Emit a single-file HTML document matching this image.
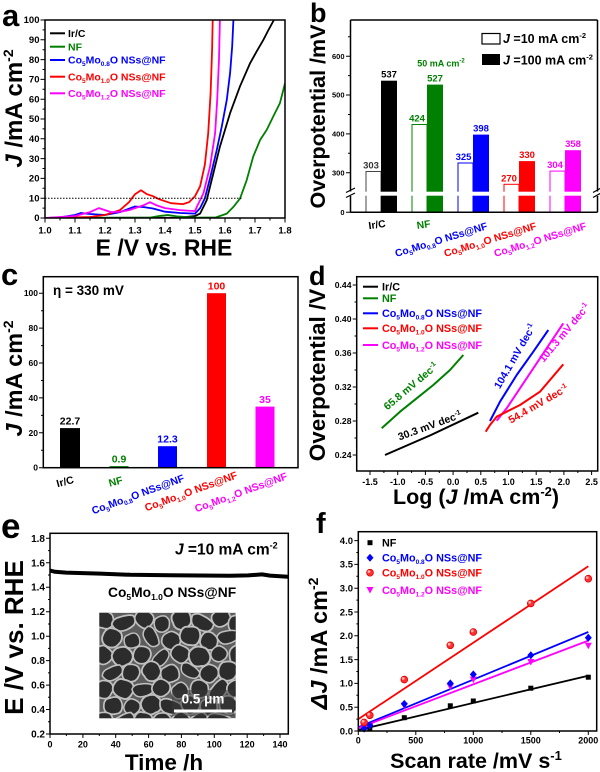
<!DOCTYPE html>
<html><head><meta charset="utf-8"><style>
html,body{margin:0;padding:0;background:#fff;}
svg{display:block;}
text{font-family:"Liberation Sans",Arial,sans-serif;font-weight:bold;}
</style></head><body>
<svg width="600" height="772" viewBox="0 0 600 772" xmlns="http://www.w3.org/2000/svg">
<defs>
<clipPath id="ca"><rect x="45" y="20" width="240" height="198"/></clipPath>
<clipPath id="csem"><rect x="99.3" y="612.7" width="136.4" height="105.6"/></clipPath>
<path id="c1" d="M-8,-5 Q-4,-10 1,-9 Q7,-8 8,-5 Q11,0 9,4 Q6,9 1,8 Q-5,9 -7,5 Q-10,0 -8,-5Z"/>
<path id="c2" d="M-9,-2 Q-8,-8 -3,-8 Q4,-10 7,-7 Q10,-3 9,2 Q8,8 3,8 Q-3,9 -7,6 Q-10,3 -9,-2Z"/>
<path id="c3" d="M-6,-7 Q0,-10 5,-8 Q10,-4 8,2 Q7,8 0,9 Q-6,9 -8,4 Q-10,-3 -6,-7Z"/>
<path id="c4" d="M-12,-3 Q-9,-8 -2,-7 Q6,-7 11,-4 Q13,1 9,5 Q3,8 -4,7 Q-11,6 -12,-3Z"/>
</defs>

<!-- ================= PANEL A ================= -->
<text x="2" y="26" font-size="31">a</text>
<g clip-path="url(#ca)" fill="none" stroke-width="1.8" stroke-linejoin="round">
<path stroke="#000" d="M45,218 L180,217.6 L195,216 L200.1,213.6 L206.7,200.2 L213.3,173.5 L219.9,146.7 L230.1,113.1 L240,86.3 L249.9,63.6 L256.5,51.7 L263.4,39.8 L268.5,29.9 L273.9,20 L276,14"/>
<path stroke="#008000" d="M45,218 L150,217.6 L159,216 L168,215 L177,216.4 L195,217.6 L216,217.4 L226.8,213.6 L233.4,206.9 L240,198.6 L246.6,180.4 L253.2,156.6 L260.1,140 L266.7,129.9 L273.3,116.4 L279.9,103.2 L285,83.4"/>
<path stroke="#0000ff" d="M45,218 L60,217.4 L75,215 L81,213 L90,214 L105,215 L120,212.1 L135,206.5 L144,207.1 L153,208.5 L165,211.7 L180,213 L195,213.6 L200.1,208.1 L204.9,198.2 L210,178.4 L216.6,150.7 L221.7,126.9 L226.8,99.8 L230.1,72.9 L232.2,46.1 L233.4,20 L234,12"/>
<path stroke="#ff0000" d="M45,218 L90,217 L105,215 L120,210.1 L129,202.2 L135,194.2 L141,190.3 L147,194.2 L153,196.2 L159,199.2 L171,203.2 L183,204.1 L189,202.2 L195,196.2 L200.1,186.3 L204.9,164.5 L208.2,133.3 L210.6,93.3 L212.1,49.7 L212.7,20 L213,12"/>
<path stroke="#ff00ff" d="M45,218 L75,216 L90,212.1 L99,208.1 L105,210.1 L111,212.1 L120,211.7 L129,210.1 L135,208.1 L144,205.1 L150,202.2 L156,205.1 L165,208.1 L180,210.1 L195,211.1 L196.8,206.9 L203.4,193.4 L210,166.7 L215.1,133.3 L217.2,99.8 L219,59.6 L219.9,20 L220,12"/>
</g>
<line x1="45" y1="198.2" x2="243" y2="198.2" stroke="#000" stroke-width="1" stroke-dasharray="1.5,1.5"/>
<rect x="45" y="20" width="240" height="198" fill="none" stroke="#000" stroke-width="1.5"/>
<path stroke="#000" stroke-width="1" d="M40.5,218H45M40.5,198.2H45M40.5,178.4H45M40.5,158.6H45M40.5,138.8H45M40.5,119H45M40.5,99.2H45M40.5,79.4H45M40.5,59.6H45M40.5,39.8H45M40.5,20H45"/>
<path stroke="#000" stroke-width="1" d="M42.5,208.1H45M42.5,188.3H45M42.5,168.5H45M42.5,148.7H45M42.5,128.9H45M42.5,109.1H45M42.5,89.3H45M42.5,69.5H45M42.5,49.7H45M42.5,29.9H45"/>
<path stroke="#000" stroke-width="1" d="M45,218V222.5M75,218V222.5M105,218V222.5M135,218V222.5M165,218V222.5M195,218V222.5M225,218V222.5M255,218V222.5M285,218V222.5M60,218V220.5M90,218V220.5M120,218V220.5M150,218V220.5M180,218V220.5M210,218V220.5M240,218V220.5M270,218V220.5"/>
<g font-size="9.5" text-anchor="end">
<text x="39.5" y="221.2">0</text><text x="39.5" y="201.4">10</text><text x="39.5" y="181.6">20</text><text x="39.5" y="161.8">30</text><text x="39.5" y="142">40</text><text x="39.5" y="122.2">50</text><text x="39.5" y="102.4">60</text><text x="39.5" y="82.6">70</text><text x="39.5" y="62.8">80</text><text x="39.5" y="43">90</text><text x="39.5" y="23.2">100</text>
</g>
<g font-size="9.5" text-anchor="middle">
<text x="45" y="233.5">1.0</text><text x="75" y="233.5">1.1</text><text x="105" y="233.5">1.2</text><text x="135" y="233.5">1.3</text><text x="165" y="233.5">1.4</text><text x="195" y="233.5">1.5</text><text x="225" y="233.5">1.6</text><text x="255" y="233.5">1.7</text><text x="285" y="233.5">1.8</text>
</g>
<text x="164" y="255.5" text-anchor="middle" font-size="23">E /V vs. RHE</text>
<text transform="translate(22,108.5) rotate(-90)" text-anchor="middle" font-size="24"><tspan font-style="italic">J</tspan> /mA cm<tspan dy="-9" font-size="14">-2</tspan></text>
<!-- legend a -->
<g stroke-width="2">
<line x1="50" y1="33.3" x2="65" y2="33.3" stroke="#000"/>
<line x1="50" y1="46.7" x2="65" y2="46.7" stroke="#008000"/>
<line x1="50" y1="60" x2="65" y2="60" stroke="#0000ff"/>
<line x1="50" y1="76.7" x2="65" y2="76.7" stroke="#ff0000"/>
<line x1="50" y1="93.3" x2="65" y2="93.3" stroke="#ff00ff"/>
</g>
<g font-size="10.5">
<text x="68" y="37">Ir/C</text>
<text x="68" y="50.4" fill="#008000">NF</text>
<text x="68" y="63.7" fill="#0000ff">Co<tspan dy="2.5" font-size="6.5">5</tspan><tspan dy="-2.5">Mo</tspan><tspan dy="2.5" font-size="6.5">0.8</tspan><tspan dy="-2.5">O NSs@NF</tspan></text>
<text x="68" y="80.4" fill="#ff0000">Co<tspan dy="2.5" font-size="6.5">5</tspan><tspan dy="-2.5">Mo</tspan><tspan dy="2.5" font-size="6.5">1.0</tspan><tspan dy="-2.5">O NSs@NF</tspan></text>
<text x="68" y="97" fill="#ff00ff">Co<tspan dy="2.5" font-size="6.5">5</tspan><tspan dy="-2.5">Mo</tspan><tspan dy="2.5" font-size="6.5">1.2</tspan><tspan dy="-2.5">O NSs@NF</tspan></text>
</g>

<!-- ================= PANEL B ================= -->
<text x="310" y="22" font-size="27">b</text>
<g stroke-width="1">
<rect x="366" y="171.5" width="15" height="40.8" fill="#fff" stroke="#444"/>
<rect x="412" y="124.5" width="15" height="87.8" fill="#fff" stroke="#008000"/>
<rect x="458" y="163" width="15" height="49.3" fill="#fff" stroke="#0000ff"/>
<rect x="504" y="184.3" width="15" height="28" fill="#fff" stroke="#ff0000"/>
<rect x="550" y="171.1" width="15" height="41.2" fill="#fff" stroke="#ff00ff"/>
</g>
<rect x="381" y="80.7" width="16" height="131.6" fill="#000"/>
<rect x="427" y="84.6" width="16" height="127.7" fill="#008000"/>
<rect x="473" y="134.6" width="16" height="77.7" fill="#0000ff"/>
<rect x="519" y="161.1" width="16" height="51.2" fill="#ff0000"/>
<rect x="565" y="150.2" width="16" height="62.1" fill="#ff00ff"/>
<rect x="351.5" y="191.7" width="245" height="4" fill="#fff"/>
<path fill="none" stroke="#000" stroke-width="1.5" d="M350.5,20H597.5M350.5,212.3H597.5M350.5,20V191.5M350.5,196V212.3M597.5,20V191.5M597.5,196V212.3"/>
<path fill="none" stroke="#000" stroke-width="1.2" d="M346,192.5L355,188M346,197.5L355,193M593,192.5L601,188M593,197.5L601,193"/>
<path stroke="#000" stroke-width="1" d="M346,212.3H350.5M346,172.7H350.5M346,133.9H350.5M346,95H350.5M346,56.2H350.5M348,153.3H350.5M348,114.5H350.5M348,75.6H350.5M348,36.8H350.5"/>
<g font-size="7.5" text-anchor="end">
<text x="344.5" y="215">0</text><text x="344.5" y="175.4">300</text><text x="344.5" y="136.6">400</text><text x="344.5" y="97.7">500</text><text x="344.5" y="58.9">600</text>
</g>
<g font-size="9.5" text-anchor="middle">
<text x="371" y="168.5" fill="#333">303</text>
<text x="389" y="77.5">537</text>
<text x="417" y="121.5" fill="#008000">424</text>
<text x="435" y="81.5" fill="#008000">527</text>
<text x="463.5" y="160" fill="#0000ff">325</text>
<text x="481" y="131.5" fill="#0000ff">398</text>
<text x="509" y="181.3" fill="#ff0000">270</text>
<text x="527" y="158" fill="#ff0000">330</text>
<text x="555" y="168" fill="#ff00ff">304</text>
<text x="573" y="147" fill="#ff00ff">358</text>
</g>
<text x="441" y="66.5" text-anchor="middle" font-size="9" fill="#008000">50 mA cm<tspan dy="-4" font-size="6">-2</tspan></text>
<rect x="482" y="33.5" width="18" height="10.5" fill="#fff" stroke="#000" stroke-width="1.2"/>
<rect x="482" y="54" width="18" height="11" fill="#000"/>
<text x="503" y="43" font-size="12.5"><tspan font-style="italic">J</tspan> =10 mA cm<tspan dy="-5" font-size="7.5">-2</tspan></text>
<text x="503" y="64.3" font-size="12.5"><tspan font-style="italic">J</tspan> =100 mA cm<tspan dy="-5" font-size="7.5">-2</tspan></text>
<text transform="translate(325,116.5) rotate(-90)" text-anchor="middle" font-size="21.5">Overpotential /mV</text>
<g font-size="10.3">
<text transform="translate(377.5,228) rotate(-8)" text-anchor="middle">Ir/C</text>
<text transform="translate(424,228) rotate(-8)" text-anchor="middle" fill="#008000">NF</text>
<text transform="translate(488,229) rotate(-17)" text-anchor="end" fill="#0000ff">Co<tspan dy="2.5" font-size="6.5">5</tspan><tspan dy="-2.5">Mo</tspan><tspan dy="2.5" font-size="6.5">0.8</tspan><tspan dy="-2.5">O NSs@NF</tspan></text>
<text transform="translate(537,229) rotate(-17)" text-anchor="end" fill="#ff0000">Co<tspan dy="2.5" font-size="6.5">5</tspan><tspan dy="-2.5">Mo</tspan><tspan dy="2.5" font-size="6.5">1.0</tspan><tspan dy="-2.5">O NSs@NF</tspan></text>
<text transform="translate(587,229) rotate(-17)" text-anchor="end" fill="#ff00ff">Co<tspan dy="2.5" font-size="6.5">5</tspan><tspan dy="-2.5">Mo</tspan><tspan dy="2.5" font-size="6.5">1.2</tspan><tspan dy="-2.5">O NSs@NF</tspan></text>
</g>

<!-- ================= PANEL C ================= -->
<text x="1" y="285" font-size="31">c</text>
<rect x="60" y="428.1" width="20" height="39.6" fill="#000"/>
<rect x="109.5" y="466.1" width="19" height="1.6" fill="#008000"/>
<rect x="158" y="446.2" width="19" height="21.5" fill="#0000ff"/>
<rect x="207" y="293.2" width="19" height="174.5" fill="#ff0000"/>
<rect x="255.5" y="406.6" width="19" height="61.1" fill="#ff00ff"/>
<rect x="43.3" y="276.7" width="254.7" height="191" fill="none" stroke="#000" stroke-width="1.5"/>
<path stroke="#000" stroke-width="1" d="M39,467.7H43.3M39,432.8H43.3M39,397.9H43.3M39,363H43.3M39,328.1H43.3M39,293.2H43.3M41,450.3H43.3M41,415.4H43.3M41,380.5H43.3M41,345.6H43.3M41,310.7H43.3"/>
<g font-size="8.5" text-anchor="end">
<text x="38" y="470.7">0</text><text x="38" y="435.8">20</text><text x="38" y="400.9">40</text><text x="38" y="366">60</text><text x="38" y="331.1">80</text><text x="38" y="296.2">100</text>
</g>
<g font-size="10.5" text-anchor="middle">
<text x="70" y="424.6">22.7</text>
<text x="119" y="462.6" fill="#008000">0.9</text>
<text x="167.5" y="442.7" fill="#0000ff">12.3</text>
<text x="216.5" y="289.7" fill="#ff0000">100</text>
<text x="265" y="403.1" fill="#ff00ff">35</text>
</g>
<text x="53" y="295" font-size="13.5">η = 330 mV</text>
<text transform="translate(22,378.5) rotate(-90)" text-anchor="middle" font-size="23.5"><tspan font-style="italic">J</tspan> /mA cm<tspan dy="-9" font-size="14">-2</tspan></text>
<g font-size="10.5">
<text transform="translate(66,485) rotate(-15)" text-anchor="middle">Ir/C</text>
<text transform="translate(116.5,485) rotate(-15)" text-anchor="middle" fill="#008000">NF</text>
<text transform="translate(185,481) rotate(-20)" text-anchor="end" fill="#0000ff">Co<tspan dy="2.5" font-size="6.5">5</tspan><tspan dy="-2.5">Mo</tspan><tspan dy="2.5" font-size="6.5">0.8</tspan><tspan dy="-2.5">O NSs@NF</tspan></text>
<text transform="translate(238,478) rotate(-20)" text-anchor="end" fill="#ff0000">Co<tspan dy="2.5" font-size="6.5">5</tspan><tspan dy="-2.5">Mo</tspan><tspan dy="2.5" font-size="6.5">1.0</tspan><tspan dy="-2.5">O NSs@NF</tspan></text>
<text transform="translate(288,479) rotate(-20)" text-anchor="end" fill="#ff00ff">Co<tspan dy="2.5" font-size="6.5">5</tspan><tspan dy="-2.5">Mo</tspan><tspan dy="2.5" font-size="6.5">1.2</tspan><tspan dy="-2.5">O NSs@NF</tspan></text>
</g>

<!-- ================= PANEL D ================= -->
<text x="309" y="285" font-size="27">d</text>
<g fill="none" stroke-width="2" stroke-linejoin="round">
<path stroke="#000" d="M385,455 L431,435 L478.3,412.7"/>
<path stroke="#008000" d="M381.7,428.3 L400,411.7 L416.7,398.3 L433.3,385 L450,370 L463.3,355"/>
<path stroke="#0000ff" d="M490,421 L500,401.7 L516.7,375 L533.3,351.7 L548.3,330"/>
<path stroke="#ff00ff" d="M496.7,420.7 L506.7,408.3 L520,388.3 L540,358.3 L563.3,323.3"/>
<path stroke="#ff0000" d="M485.7,431.7 L490,425 L496.7,416.7 L506.7,411.7 L520,405 L540,391.7 L563.3,364.3"/>
</g>
<rect x="356.7" y="276.7" width="241" height="194.3" fill="none" stroke="#000" stroke-width="1.5"/>
<path stroke="#000" stroke-width="1" d="M370,471V475M397.7,471V475M425.4,471V475M453.1,471V475M480.8,471V475M508.5,471V475M536.2,471V475M563.9,471V475M591.6,471V475M383.9,471V473M411.6,471V473M439.3,471V473M467,471V473M494.7,471V473M522.4,471V473M550.1,471V473M577.8,471V473"/>
<path stroke="#000" stroke-width="1" d="M352.7,455H356.7M352.7,421H356.7M352.7,387H356.7M352.7,353H356.7M352.7,319H356.7M352.7,285H356.7M354.5,438H356.7M354.5,404H356.7M354.5,370H356.7M354.5,336H356.7M354.5,302H356.7"/>
<g font-size="8.6" text-anchor="end">
<text x="351.5" y="458">0.24</text><text x="351.5" y="424">0.28</text><text x="351.5" y="390">0.32</text><text x="351.5" y="356">0.36</text><text x="351.5" y="322">0.40</text><text x="351.5" y="288">0.44</text>
</g>
<g font-size="9" text-anchor="middle">
<text x="370" y="485">-1.5</text><text x="397.7" y="485">-1.0</text><text x="425.4" y="485">-0.5</text><text x="453.1" y="485">0.0</text><text x="480.8" y="485">0.5</text><text x="508.5" y="485">1.0</text><text x="536.2" y="485">1.5</text><text x="563.9" y="485">2.0</text><text x="591.6" y="485">2.5</text>
</g>
<g stroke-width="2">
<line x1="363" y1="286.7" x2="378" y2="286.7" stroke="#000"/>
<line x1="363" y1="298.3" x2="378" y2="298.3" stroke="#008000"/>
<line x1="363" y1="313.3" x2="378" y2="313.3" stroke="#0000ff"/>
<line x1="363" y1="328.3" x2="378" y2="328.3" stroke="#ff0000"/>
<line x1="363" y1="345" x2="378" y2="345" stroke="#ff00ff"/>
</g>
<g font-size="10.8">
<text x="382" y="290.5">Ir/C</text>
<text x="382" y="302.1" fill="#008000">NF</text>
<text x="382" y="317.1" fill="#0000ff">Co<tspan dy="2.5" font-size="6.5">5</tspan><tspan dy="-2.5">Mo</tspan><tspan dy="2.5" font-size="6.5">0.8</tspan><tspan dy="-2.5">O NSs@NF</tspan></text>
<text x="382" y="332.1" fill="#ff0000">Co<tspan dy="2.5" font-size="6.5">5</tspan><tspan dy="-2.5">Mo</tspan><tspan dy="2.5" font-size="6.5">1.0</tspan><tspan dy="-2.5">O NSs@NF</tspan></text>
<text x="382" y="348.8" fill="#ff00ff">Co<tspan dy="2.5" font-size="6.5">5</tspan><tspan dy="-2.5">Mo</tspan><tspan dy="2.5" font-size="6.5">1.2</tspan><tspan dy="-2.5">O NSs@NF</tspan></text>
</g>
<g font-size="10.5" text-anchor="middle">
<text transform="translate(413,389) rotate(-40)" fill="#008000">65.8 mV dec<tspan dy="-4" font-size="7">-1</tspan></text>
<text transform="translate(431,429) rotate(-20)" fill="#000">30.3 mV dec<tspan dy="-4" font-size="7">-1</tspan></text>
<text transform="translate(518,358) rotate(-60)" fill="#0000ff">104.1 mV dec<tspan dy="-4" font-size="7">-1</tspan></text>
<text transform="translate(567,335) rotate(-50)" fill="#ff00ff">101.3 mV dec<tspan dy="-4" font-size="7">-1</tspan></text>
<text transform="translate(540,407) rotate(-30)" fill="#ff0000">54.4 mV dec<tspan dy="-4" font-size="7">-1</tspan></text>
</g>
<text transform="translate(325,375) rotate(-90)" text-anchor="middle" font-size="22.5">Overpotential /V</text>
<text x="476" y="504" text-anchor="middle" font-size="21.5">Log (<tspan font-style="italic">J</tspan> /mA cm<tspan dy="-8" font-size="13">-2</tspan><tspan dy="8">)</tspan></text>

<!-- ================= PANEL E ================= -->
<text x="1" y="538" font-size="35">e</text>
<!-- SEM image -->
<g clip-path="url(#csem)">
<rect x="99.3" y="612.7" width="136.4" height="105.6" fill="#5c5c5c"/>
<g fill="#2c2c2c" stroke="#c0c0c0" stroke-width="1.7">
<use href="#c1" transform="translate(104,620) rotate(15)"/>
<use href="#c4" transform="translate(124,623) rotate(-20)"/>
<use href="#c2" transform="translate(144,619) rotate(40)"/>
<use href="#c3" transform="translate(162,624) rotate(-10) scale(0.9)"/>
<use href="#c1" transform="translate(181,619) rotate(70) scale(1.1)"/>
<use href="#c4" transform="translate(202,623) rotate(25)"/>
<use href="#c2" transform="translate(221,618) rotate(-35)"/>
<use href="#c3" transform="translate(237,624) rotate(5)"/>
<use href="#c3" transform="translate(112,638) rotate(30) scale(1.1)"/>
<use href="#c2" transform="translate(132,641) rotate(-15) scale(0.85)"/>
<use href="#c4" transform="translate(151,637) rotate(60) scale(0.9)"/>
<use href="#c1" transform="translate(171,641) rotate(-40)"/>
<use href="#c2" transform="translate(190,636) rotate(10) scale(1.1)"/>
<use href="#c3" transform="translate(209,641) rotate(-60)"/>
<use href="#c4" transform="translate(228,637) rotate(-15) scale(0.9)"/>
<use href="#c2" transform="translate(103,655) rotate(50)"/>
<use href="#c1" transform="translate(122,657) rotate(-25) scale(1.1)"/>
<use href="#c3" transform="translate(142,655) rotate(20)"/>
<use href="#c4" transform="translate(161,658) rotate(-50) scale(0.85)"/>
<use href="#c2" transform="translate(180,654) rotate(35)"/>
<use href="#c1" transform="translate(199,657) rotate(-5) scale(1.15)"/>
<use href="#c3" transform="translate(219,654) rotate(45) scale(0.9)"/>
<use href="#c4" transform="translate(237,657) rotate(80)"/>
<use href="#c4" transform="translate(113,673) rotate(-30) scale(0.9)"/>
<use href="#c3" transform="translate(131,673) rotate(15)"/>
<use href="#c1" transform="translate(151,671) rotate(55) scale(1.05)"/>
<use href="#c2" transform="translate(170,674) rotate(-20)"/>
<use href="#c4" transform="translate(190,671) rotate(30) scale(0.85)"/>
<use href="#c1" transform="translate(209,674) rotate(-45)"/>
<use href="#c3" transform="translate(228,671) rotate(10) scale(1.1)"/>
<use href="#c1" transform="translate(104,690) rotate(-60)"/>
<use href="#c2" transform="translate(123,689) rotate(25) scale(1.1)"/>
<use href="#c4" transform="translate(143,690) rotate(-10) scale(0.9)"/>
<use href="#c3" transform="translate(161,688) rotate(40)"/>
<use href="#c2" transform="translate(180,691) rotate(-30) scale(0.9)"/>
<use href="#c1" transform="translate(199,689) rotate(20)"/>
<use href="#c4" transform="translate(219,690) rotate(-55)"/>
<use href="#c3" transform="translate(236,689) rotate(65)"/>
<use href="#c2" transform="translate(113,706) rotate(-5)"/>
<use href="#c3" transform="translate(132,707) rotate(35) scale(0.9)"/>
<use href="#c1" transform="translate(151,705) rotate(-25) scale(1.1)"/>
<use href="#c4" transform="translate(171,707) rotate(15)"/>
<use href="#c2" transform="translate(190,705) rotate(50)"/>
<use href="#c3" transform="translate(209,707) rotate(-15)"/>
<use href="#c1" transform="translate(228,705) rotate(30)"/>
<use href="#c3" transform="translate(104,721) rotate(10)"/>
<use href="#c4" transform="translate(124,722) rotate(-35)"/>
<use href="#c2" transform="translate(143,721) rotate(20)"/>
<use href="#c1" transform="translate(162,722) rotate(-15)"/>
<use href="#c3" transform="translate(181,721) rotate(45)"/>
<use href="#c2" transform="translate(200,722) rotate(-25)"/>
<use href="#c4" transform="translate(219,721) rotate(5)"/>
</g>
<rect x="172" y="690" width="62" height="26" fill="#3a3a3a" opacity="0.55"/>
</g>
<rect x="174" y="709.5" width="58" height="3" fill="#fff"/>
<text x="203" y="703.5" text-anchor="middle" font-size="13.5" fill="#fff">0.5 μm</text>
<path fill="none" stroke="#000" stroke-width="4" stroke-linejoin="round" d="M50,570.5 L55,571.8 L66,572.6 L100,573.6 L130,574.8 L170,575.3 L230,575.8 L248,575.4 L262,574.4 L270,575.6 L288,576.7"/>
<rect x="50" y="533.3" width="238.3" height="200.7" fill="none" stroke="#000" stroke-width="1.5"/>
<path stroke="#000" stroke-width="1" d="M46,734H50M46,709.5H50M46,685.1H50M46,660.6H50M46,636.2H50M46,611.7H50M46,587.2H50M46,562.8H50M46,538.3H50M48,721.8H50M48,697.3H50M48,672.9H50M48,648.4H50M48,624H50M48,599.5H50M48,575H50M48,550.6H50"/>
<path stroke="#000" stroke-width="1" d="M50,734V738M82.9,734V738M115.7,734V738M148.6,734V738M181.4,734V738M214.3,734V738M247.2,734V738M280,734V738M66.4,734V736M99.3,734V736M132.2,734V736M165,734V736M197.9,734V736M230.7,734V736M263.6,734V736"/>
<g font-size="10" text-anchor="end">
<text x="45" y="737.5">0.2</text><text x="45" y="713">0.4</text><text x="45" y="688.6">0.6</text><text x="45" y="664.1">0.8</text><text x="45" y="639.7">1.0</text><text x="45" y="615.2">1.2</text><text x="45" y="590.7">1.4</text><text x="45" y="566.3">1.6</text><text x="45" y="541.8">1.8</text>
</g>
<g font-size="9" text-anchor="middle">
<text x="50" y="747.5">0</text><text x="82.9" y="747.5">20</text><text x="115.7" y="747.5">40</text><text x="148.6" y="747.5">60</text><text x="181.4" y="747.5">80</text><text x="214.3" y="747.5">100</text><text x="247.2" y="747.5">120</text><text x="280" y="747.5">140</text>
</g>
<text x="175" y="554.5" font-size="15.5"><tspan font-style="italic">J</tspan> =10 mA cm<tspan dy="-6" font-size="9">-2</tspan></text>
<text x="108" y="597" font-size="13.8">Co<tspan dy="3" font-size="8.5">5</tspan><tspan dy="-3">Mo</tspan><tspan dy="3" font-size="8.5">1.0</tspan><tspan dy="-3">O NSs@NF</tspan></text>
<text transform="translate(23,637.5) rotate(-90)" text-anchor="middle" font-size="26">E /V vs. RHE</text>
<text x="164" y="770" text-anchor="middle" font-size="22.5">Time /h</text>

<!-- ================= PANEL F ================= -->
<text x="316" y="533" font-size="29">f</text>
<g stroke-width="1.8">
<line x1="358.3" y1="730" x2="588.3" y2="675.8" stroke="#000"/>
<line x1="358.3" y1="727.2" x2="588.3" y2="632" stroke="#0000ff"/>
<line x1="358.3" y1="719.1" x2="588.3" y2="566.3" stroke="#ff0000"/>
<line x1="358.3" y1="728.1" x2="588.3" y2="640.6" stroke="#ff00ff"/>
</g>
<g fill="#000">
<rect x="367.3" y="726.1" width="5" height="5"/><rect x="401.8" y="715.2" width="5" height="5"/><rect x="447.8" y="703.3" width="5" height="5"/><rect x="470.8" y="698.5" width="5" height="5"/><rect x="528.3" y="685.7" width="5" height="5"/><rect x="585.8" y="674.7" width="5" height="5"/>
</g>
<g fill="#ff00ff">
<path d="M360.6,725.6L367.6,725.6L364.1,732.1Z"/><path d="M366.3,723.2L373.3,723.2L369.8,729.7Z"/><path d="M400.8,702.8L407.8,702.8L404.3,709.3Z"/><path d="M446.8,683.7L453.8,683.7L450.3,690.2Z"/><path d="M469.8,676.6L476.8,676.6L473.3,683.1Z"/><path d="M527.3,659L534.3,659L530.8,665.5Z"/><path d="M584.8,642.8L591.8,642.8L588.3,649.3Z"/>
</g>
<g fill="#0000ff">
<path d="M364.1,724.6L367.6,728.6L364.1,732.6L360.6,728.6Z"/><path d="M369.8,721.3L373.3,725.3L369.8,729.3L366.3,725.3Z"/><path d="M404.3,699.9L407.8,703.9L404.3,707.9L400.8,703.9Z"/><path d="M450.3,679.4L453.8,683.4L450.3,687.4L446.8,683.4Z"/><path d="M473.3,670.4L476.8,674.4L473.3,678.4L469.8,674.4Z"/><path d="M530.8,651.3L534.3,655.3L530.8,659.3L527.3,655.3Z"/><path d="M588.3,633.7L591.8,637.7L588.3,641.7L584.8,637.7Z"/>
</g>
<g fill="#ff3030" stroke="#e00000" stroke-width="0.8">
<circle cx="364.1" cy="722.4" r="3.4"/><circle cx="369.8" cy="715.3" r="3.4"/><circle cx="404.3" cy="679.6" r="3.4"/><circle cx="450.3" cy="645.3" r="3.4"/><circle cx="473.3" cy="632" r="3.4"/><circle cx="530.8" cy="603.4" r="3.4"/><circle cx="588.3" cy="578.7" r="3.4"/>
</g>
<g fill="#ffb0b0">
<circle cx="363" cy="721.3" r="1.4"/><circle cx="368.7" cy="714.2" r="1.4"/><circle cx="403.2" cy="678.5" r="1.4"/><circle cx="449.2" cy="644.2" r="1.4"/><circle cx="472.2" cy="630.9" r="1.4"/><circle cx="529.7" cy="602.3" r="1.4"/><circle cx="587.2" cy="577.6" r="1.4"/>
</g>
<rect x="358.3" y="531.7" width="238.4" height="199.3" fill="none" stroke="#000" stroke-width="1.5"/>
<path stroke="#000" stroke-width="1" d="M354.3,731H358.3M354.3,707.2H358.3M354.3,683.4H358.3M354.3,659.6H358.3M354.3,635.8H358.3M354.3,612H358.3M354.3,588.2H358.3M354.3,564.4H358.3M354.3,540.6H358.3M356.3,719.1H358.3M356.3,695.3H358.3M356.3,671.5H358.3M356.3,647.7H358.3M356.3,623.9H358.3M356.3,600.1H358.3M356.3,576.3H358.3M356.3,552.5H358.3"/>
<path stroke="#000" stroke-width="1" d="M358.3,731V735M415.8,731V735M473.3,731V735M530.8,731V735M588.3,731V735M387,731V733M444.5,731V733M502,731V733M559.5,731V733"/>
<g font-size="9.5" text-anchor="end">
<text x="353" y="734.3">0.0</text><text x="353" y="710.5">0.5</text><text x="353" y="686.7">1.0</text><text x="353" y="662.9">1.5</text><text x="353" y="639.1">2.0</text><text x="353" y="615.3">2.5</text><text x="353" y="591.5">3.0</text><text x="353" y="567.7">3.5</text><text x="353" y="543.9">4.0</text>
</g>
<g font-size="9" text-anchor="middle">
<text x="358.3" y="743.5">0</text><text x="415.8" y="743.5">500</text><text x="473.3" y="743.5">1000</text><text x="530.8" y="743.5">1500</text><text x="588.3" y="743.5">2000</text>
</g>
<!-- legend f -->
<rect x="367.5" y="540.2" width="5" height="5" fill="#000"/>
<path d="M370,553.7L373.5,557.7L370,561.7L366.5,557.7Z" fill="#0000ff"/>
<circle cx="370" cy="572.7" r="3.4" fill="#ff3030" stroke="#e00000" stroke-width="0.8"/><circle cx="368.9" cy="571.6" r="1.4" fill="#ffb0b0"/>
<path d="M366.5,587L373.5,587L370,593.5Z" fill="#ff00ff"/>
<g font-size="10.8">
<text x="382" y="546.5">NF</text>
<text x="382" y="561.5" fill="#0000ff">Co<tspan dy="2.5" font-size="6.5">5</tspan><tspan dy="-2.5">Mo</tspan><tspan dy="2.5" font-size="6.5">0.8</tspan><tspan dy="-2.5">O NSs@NF</tspan></text>
<text x="382" y="576.5" fill="#ff0000">Co<tspan dy="2.5" font-size="6.5">5</tspan><tspan dy="-2.5">Mo</tspan><tspan dy="2.5" font-size="6.5">1.0</tspan><tspan dy="-2.5">O NSs@NF</tspan></text>
<text x="382" y="593.8" fill="#ff00ff">Co<tspan dy="2.5" font-size="6.5">5</tspan><tspan dy="-2.5">Mo</tspan><tspan dy="2.5" font-size="6.5">1.2</tspan><tspan dy="-2.5">O NSs@NF</tspan></text>
</g>
<text transform="translate(327,643.5) rotate(-90)" text-anchor="middle" font-size="23.5"><tspan font-style="italic">ΔJ</tspan> /mA cm<tspan dy="-9" font-size="14">-2</tspan></text>
<text x="476" y="768" text-anchor="middle" font-size="21.5">Scan rate /mV s<tspan dy="-8" font-size="13">-1</tspan></text>
</svg>
</body></html>
